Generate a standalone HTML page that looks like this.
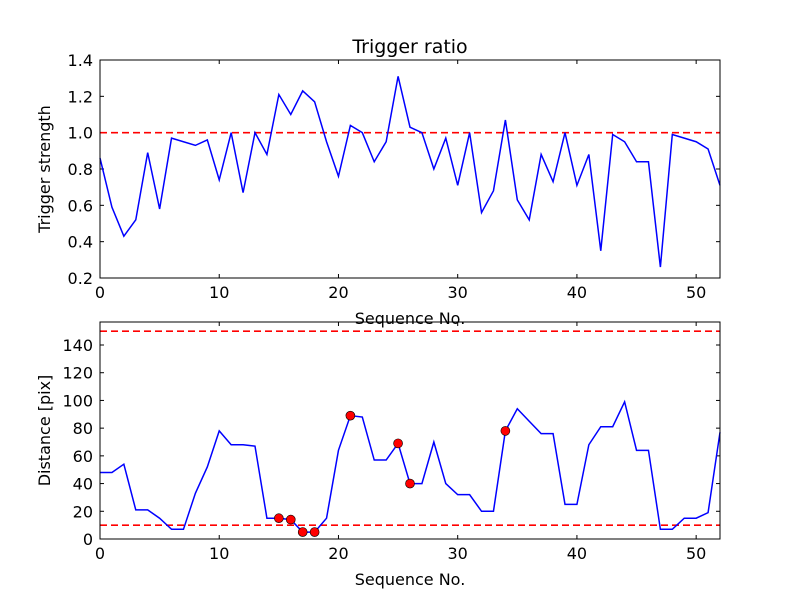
<!DOCTYPE html>
<html><head><meta charset="utf-8"><style>
body{margin:0;background:#fff}
svg{display:block;font-family:"DejaVu Sans","Liberation Sans",sans-serif}
</style></head><body>
<svg id="c" width="800" height="600" viewBox="0 0 800 600" xmlns="http://www.w3.org/2000/svg"></svg>
<script>
const xTicks=[0,10,20,30,40,50];
const topTicks=[0.2,0.4,0.6,0.8,1.0,1.2,1.4];
const botTicks=[0,20,40,60,80,100,120,140];
const strength=[0.86,0.59,0.43,0.52,0.89,0.58,0.97,0.95,0.93,0.96,0.74,1.0,0.67,1.0,0.88,1.21,1.10,1.23,1.17,0.95,0.76,1.04,1.0,0.84,0.95,1.31,1.03,1.0,0.80,0.97,0.71,1.0,0.56,0.68,1.07,0.63,0.52,0.88,0.73,1.0,0.71,0.88,0.35,0.99,0.95,0.84,0.84,0.26,0.99,0.97,0.95,0.91,0.71];
const distance=[48,48,54,21,21,15,7,7,33,52,78,68,68,67,15,15,14,5,5,15,64,89,88,57,57,69,40,40,70,40,32,32,20,20,78,94,85,76,76,25,25,68,81,81,99,64,64,7,7,15,15,19,77];
const flagged=[15,16,17,18,21,25,26,34];
const strengthThreshold=[1.0];
const distanceThresholds=[10,150];

const NS="http://www.w3.org/2000/svg";
const svg=document.getElementById('c');
function el(t,a,p){const e=document.createElementNS(NS,t);for(const k in a)e.setAttribute(k,a[k]);(p||svg).appendChild(e);return e;}
const L=100,R=720,X0=0,X1=52;
const sx=v=>L+(v-X0)/(X1-X0)*(R-L);

function panel(top,bot,y0,y1,ticks,fmt,ylabel,name){
  const sy=v=>bot-(v-y0)/(y1-y0)*(bot-top);
  const g=el('g',{});
  
  
  xTicks.forEach(t=>{
    el('line',{x1:sx(t),x2:sx(t),y1:bot,y2:bot-4,stroke:'#000'},g);
    el('line',{x1:sx(t),x2:sx(t),y1:top,y2:top+4,stroke:'#000'},g);
    const tx=el('text',{x:sx(t),y:bot+20,'text-anchor':'middle','font-size':16},g);
    tx.textContent=t;
    
    
  });
  ticks.forEach(t=>{
    el('line',{x1:L,x2:L+4,y1:sy(t),y2:sy(t),stroke:'#000'},g);
    el('line',{x1:R,x2:R-4,y1:sy(t),y2:sy(t),stroke:'#000'},g);
    const tx=el('text',{x:L-7,y:sy(t)+6,'text-anchor':'end','font-size':16},g);
    tx.textContent=fmt(t);
    
    
  });
  const xl=el('text',{x:(L+R)/2,y:bot+46,'text-anchor':'middle','font-size':16},g);
  xl.textContent='Sequence No.';
  
  
  const yl=el('text',{x:0,y:0,'text-anchor':'middle','font-size':16,transform:`translate(${L-50},${(top+bot)/2}) rotate(-90)`},g);
  yl.textContent=ylabel;
  
  
  return {sy,g};
}

const tp=panel(60,278,0.2,1.4,topTicks,v=>v.toFixed(1),'Trigger strength','strength-panel');
strengthThreshold.forEach(v=>{
  const l=el('line',{x1:L,x2:R,y1:tp.sy(v),y2:tp.sy(v),stroke:'#f00','stroke-width':1.6,'stroke-dasharray':'7,4'});
  
  
});
const p1=el('polyline',{points:strength.map((v,i)=>sx(i)+','+tp.sy(v)).join(' '),fill:'none',stroke:'#00f','stroke-width':1.5});


el('rect',{x:L,y:60,width:R-L,height:218,fill:'none',stroke:'#000','stroke-width':1});
const title=el('text',{x:(L+R)/2,y:53,'text-anchor':'middle','font-size':19});
title.textContent='Trigger ratio';



const bp=panel(322,539,0,156.6,botTicks,v=>v,'Distance [pix]','distance-panel');
distanceThresholds.forEach(v=>{
  const l=el('line',{x1:L,x2:R,y1:bp.sy(v),y2:bp.sy(v),stroke:'#f00','stroke-width':1.6,'stroke-dasharray':'7,4'});
  
  
});
const p2=el('polyline',{points:distance.map((v,i)=>sx(i)+','+bp.sy(v)).join(' '),fill:'none',stroke:'#00f','stroke-width':1.5});


flagged.forEach(i=>{
  const c=el('circle',{cx:sx(i),cy:bp.sy(distance[i]),r:4.5,fill:'#f00',stroke:'#000','stroke-width':0.6});
  
  
});
el('rect',{x:L,y:322,width:R-L,height:217,fill:'none',stroke:'#000','stroke-width':1});
</script>
</body></html>
